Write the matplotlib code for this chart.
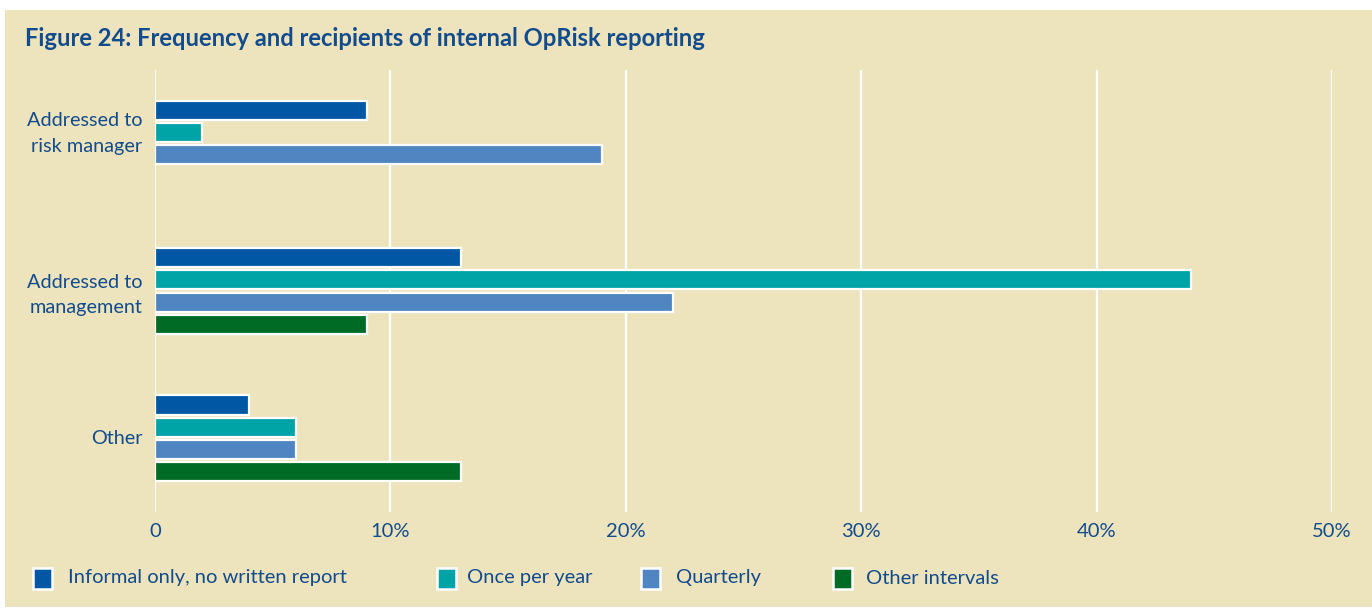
"""Figure 24: frequency and recipients of internal OpRisk reporting."""
import matplotlib
matplotlib.use("Agg")
import matplotlib.pyplot as plt
from matplotlib.patches import Rectangle

# data (percent of respondents)
groups = ["Addressed to\nrisk manager", "Addressed to\nmanagement", "Other"]
series = ["Informal only, no written report", "Once per year",
          "Quarterly", "Other intervals"]
informal = [9, 13, 4]
once_year = [2, 44, 6]
quarterly = [19, 22, 6]
other_int = [None, 9, 13]
xticks = [0, 10, 20, 30, 40, 50]
xticklabels = ["0", "10%", "20%", "30%", "40%", "50%"]

BG = "#EDE3BD"
TXT = "#124C8C"
colors = ["#0057A3", "#00A3A6", "#4F86C1", "#006B24"]

plt.rcParams["font.family"] = ["Lato", "DejaVu Sans"]
fig = plt.figure(figsize=(13.72, 6.10), dpi=100)
fig.patch.set_facecolor("white")
fig.add_artist(Rectangle((5 / 1372, 0.005), 1, 1 - 10 / 610 - 0.005,
                         transform=fig.transFigure, facecolor=BG,
                         edgecolor="none", zorder=0))
ax = fig.add_axes([155 / 1372, 1 - 512 / 610, 1177 / 1372, 442 / 610])
ax.set_facecolor("none")

pitch, h = 0.1505, 0.13
allvals = [informal, once_year, quarterly, other_int]
for i, vals in enumerate(allvals):
    for g, v in enumerate(vals):
        if v is None:
            continue
        ax.barh(g + (i - 1.5) * pitch, v, height=h, color=colors[i],
                edgecolor="white", linewidth=1.6, zorder=3)

# label sits in the middle of the bars actually drawn in each group
ticky = []
for g in range(len(groups)):
    ys = [g + (i - 1.5) * pitch for i in range(4) if allvals[i][g] is not None]
    ticky.append(sum(ys) / len(ys) - 0.012)
ticky[0] -= 0.02
ax.set_yticks(ticky)
ax.set_yticklabels(groups, fontsize=14.3, color=TXT, linespacing=1.6)
ax.set_ylim(2.5, -0.5)
ax.set_xlim(0, 50)
ax.set_xticks(xticks)
ax.set_xticklabels(xticklabels, fontsize=14.5, color=TXT)
ax.tick_params(axis="x", length=0, pad=8)
ax.tick_params(axis="y", length=0, pad=9)
ax.grid(axis="x", color="white", linewidth=1.6, zorder=1)
for s in ax.spines.values():
    s.set_visible(False)

fig.text(25 / 1372, 1 - 39 / 610,
         "Figure 24: Frequency and recipients of internal OpRisk reporting",
         fontsize=17.1, fontweight="bold", color=TXT, va="center")

# legend, laid out across the bottom
lx = [33, 437, 641, 833]
tx = [68, 467, 676, 866]
for x0, t0, c, lab in zip(lx, tx, colors, series):
    fig.add_artist(Rectangle((x0 / 1372, 1 - 589 / 610), 19 / 1372, 21 / 610,
                             transform=fig.transFigure, facecolor=c,
                             edgecolor="white", linewidth=1.8, zorder=3))
    fig.text(t0 / 1372, 1 - 578 / 610, lab, fontsize=14.5, color=TXT,
             va="center")

fig.savefig("out.png", dpi=100)
